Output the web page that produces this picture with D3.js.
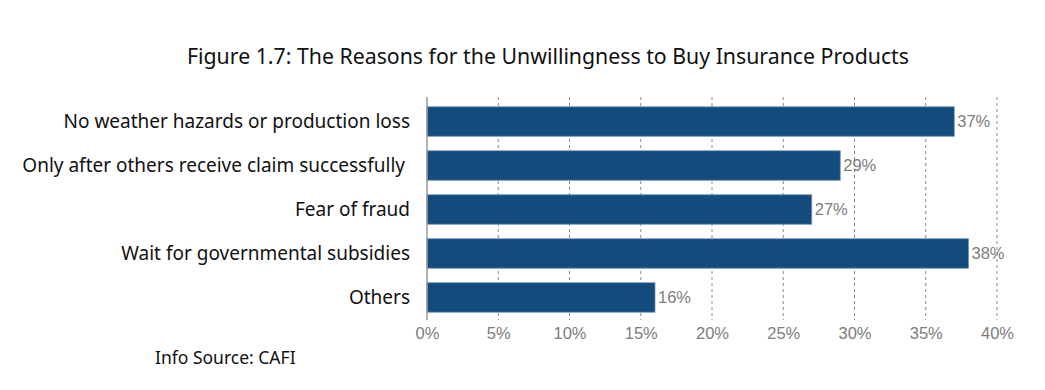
<!DOCTYPE html>
<html>
<head>
<meta charset="utf-8">
<script src="https://cdn.jsdelivr.net/npm/d3@7"></script>
<style>
  body { margin: 0; background: #fff; }
  svg { display: block; }
</style>
</head>
<body>
<div id="chart"></div>
<script>
const categories = [
  "No weather hazards or production loss",
  "Only after others receive claim successfully",
  "Fear of fraud",
  "Wait for governmental subsidies",
  "Others"
];
const values = [37, 29, 27, 38, 16];
const xTicks = [0, 5, 10, 15, 20, 25, 30, 35, 40];

const width = 1045, height = 390;
const margin = { top: 97, right: 48, bottom: 70, left: 427 };

const svg = d3.select("#chart").append("svg")
  .attr("width", width)
  .attr("height", height);

// title
svg.append("text")
  .attr("x", 548).attr("y", 64)
  .attr("text-anchor", "middle")
  .attr("textLength", 722)
  .attr("lengthAdjust", "spacingAndGlyphs")
  .style("font-family", "'Noto Sans', sans-serif")
  .style("font-size", "21px")
  .style("fill", "#111")
  .text("Figure 1.7: The Reasons for the Unwillingness to Buy Insurance Products");

const x = d3.scaleLinear().domain([0, 40]).range([margin.left, 997]);
const y = d3.scaleBand().domain(categories)
  .range([margin.top + 1, height - margin.bottom + 1])
  .paddingInner(0.33).paddingOuter(0.2);

// dashed gridlines
svg.append("g")
  .selectAll("line")
  .data(xTicks.slice(1))
  .join("line")
  .attr("x1", d => x(d)).attr("x2", d => x(d))
  .attr("y1", margin.top).attr("y2", height - margin.bottom)
  .attr("stroke", "#8a8a8a")
  .attr("stroke-width", 1)
  .attr("stroke-dasharray", "3,3");

// x tick labels
const xAxis = svg.append("g")
  .attr("transform", `translate(0,${height - margin.bottom})`)
  .call(d3.axisBottom(x).tickValues(xTicks).tickFormat(d => d + "%").tickSize(0).tickPadding(7));
xAxis.select(".domain").remove();
xAxis.selectAll("text")
  .style("font-family", "'Liberation Sans', Arial, sans-serif")
  .style("font-size", "16.5px")
  .style("fill", "#7d7d7d");

// bars
svg.append("g")
  .selectAll("rect")
  .data(values)
  .join("rect")
  .attr("x", x(0))
  .attr("y", (d, i) => y(categories[i]))
  .attr("width", d => x(d) - x(0))
  .attr("height", y.bandwidth())
  .attr("fill", "#134b7c")
  .attr("stroke", "#6d93b8")
  .attr("stroke-width", 0.8);

// value labels
svg.append("g")
  .selectAll("text")
  .data(values)
  .join("text")
  .attr("x", d => x(d) + 3)
  .attr("y", (d, i) => y(categories[i]) + y.bandwidth() / 2)
  .attr("dy", "0.36em")
  .style("font-family", "'Liberation Sans', Arial, sans-serif")
  .style("font-size", "16.5px")
  .style("fill", "#7d7d7d")
  .text(d => d + "%");

// y axis line
svg.append("line")
  .attr("x1", x(0)).attr("x2", x(0))
  .attr("y1", margin.top).attr("y2", height - margin.bottom)
  .attr("stroke", "#999")
  .attr("stroke-width", 1.5);

// category labels
svg.append("g")
  .selectAll("text")
  .data(categories)
  .join("text")
  .attr("x", (d, i) => i === 1 ? 405 : 410)
  .attr("y", d => y(d) + y.bandwidth() / 2)
  .attr("dy", "0.36em")
  .attr("text-anchor", "end")
  .style("font-family", "'Noto Sans', sans-serif")
  .style("font-size", "19px")
  .style("fill", "#111")
  .text(d => d);

// source
svg.append("text")
  .attr("x", 155).attr("y", 364)
  .style("font-family", "'Noto Sans', sans-serif")
  .style("font-size", "17.5px")
  .style("fill", "#111")
  .text("Info Source: CAFI");
</script>
</body>
</html>
